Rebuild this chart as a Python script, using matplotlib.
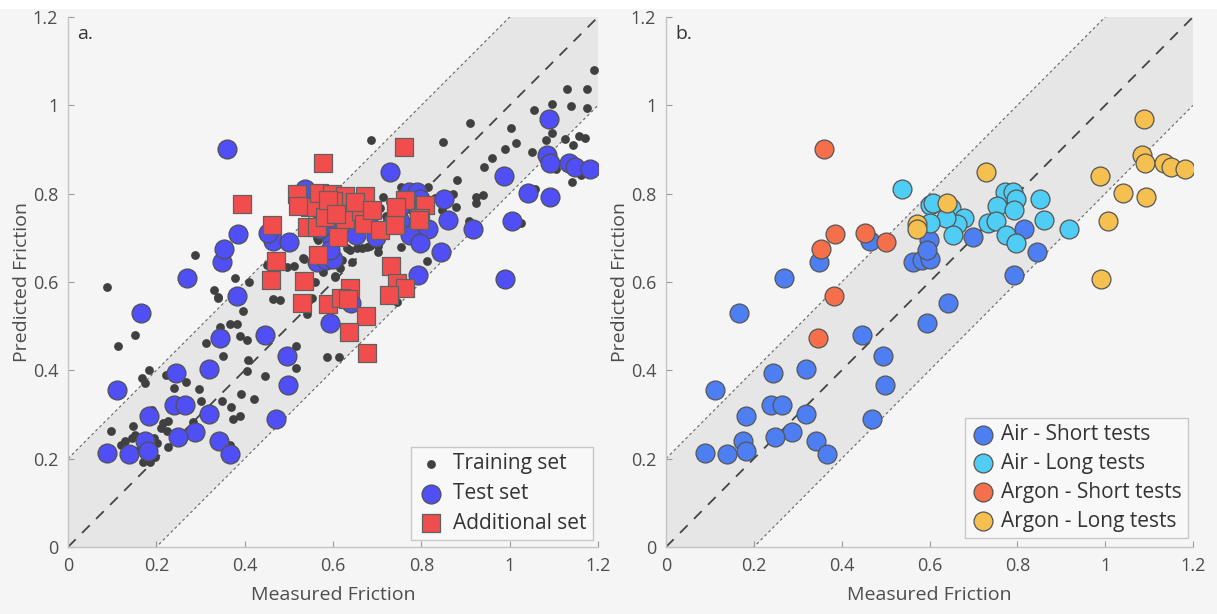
import numpy as np
import matplotlib
matplotlib.use("Agg")
import matplotlib.pyplot as plt
from matplotlib.patches import Rectangle

plt.rcParams['font.family'] = ['Open Sans', 'DejaVu Sans']

# ---- data (measured, predicted) ----
air_short_x = [0.166, 0.446, 0.495, 0.499, 0.470, 0.112, 0.244, 0.319, 0.239, 0.264, 0.183,
               0.319, 0.288, 0.249, 0.342, 0.367, 0.175, 0.182, 0.088, 0.139, 0.464, 0.348,
               0.269, 0.563, 0.584, 0.601, 0.598, 0.594, 0.698, 0.641, 0.594, 0.816, 0.844, 0.793]
air_short_y = [0.530, 0.480, 0.432, 0.367, 0.289, 0.355, 0.395, 0.402, 0.321, 0.321, 0.297,
               0.302, 0.260, 0.250, 0.240, 0.211, 0.240, 0.218, 0.213, 0.211, 0.693, 0.646,
               0.610, 0.646, 0.650, 0.652, 0.695, 0.672, 0.703, 0.552, 0.507, 0.721, 0.668, 0.616]

air_long_x = [0.537, 0.600, 0.609, 0.650, 0.679, 0.662, 0.638, 0.601, 0.653, 0.773, 0.791,
              0.798, 0.754, 0.792, 0.852, 0.861, 0.734, 0.751, 0.774, 0.798, 0.917]
air_long_y = [0.810, 0.774, 0.778, 0.767, 0.746, 0.731, 0.746, 0.733, 0.706, 0.803, 0.804,
              0.789, 0.773, 0.763, 0.787, 0.740, 0.733, 0.737, 0.706, 0.689, 0.719]

argon_short_x = [0.360, 0.384, 0.452, 0.500, 0.354, 0.383, 0.345]
argon_short_y = [0.901, 0.709, 0.712, 0.691, 0.675, 0.568, 0.474]

argon_long_x = [0.571, 0.571, 0.639, 0.729, 0.988, 1.088, 1.085, 1.091, 1.134, 1.149, 1.182,
                1.041, 1.092, 1.006, 0.990]
argon_long_y = [0.732, 0.719, 0.778, 0.850, 0.840, 0.968, 0.887, 0.870, 0.869, 0.861, 0.856,
                0.801, 0.793, 0.738, 0.606]

additional_x = [0.578, 0.761, 0.393, 0.461, 0.471, 0.459, 0.535, 0.567, 0.519, 0.549, 0.540,
                0.569, 0.597, 0.627, 0.672, 0.521, 0.601, 0.603, 0.627, 0.663, 0.670, 0.706,
                0.740, 0.763, 0.809, 0.797, 0.743, 0.563, 0.612, 0.731, 0.582, 0.589, 0.650,
                0.529, 0.589, 0.638, 0.617, 0.635, 0.675, 0.636, 0.676, 0.746, 0.763, 0.727,
                0.688, 0.607, 0.795]
additional_y = [0.870, 0.906, 0.777, 0.728, 0.648, 0.605, 0.602, 0.661, 0.799, 0.770, 0.725,
                0.802, 0.800, 0.795, 0.795, 0.772, 0.783, 0.752, 0.742, 0.761, 0.731, 0.718,
                0.729, 0.786, 0.774, 0.746, 0.769, 0.724, 0.701, 0.636, 0.748, 0.786, 0.780,
                0.553, 0.550, 0.586, 0.563, 0.561, 0.523, 0.487, 0.440, 0.597, 0.587, 0.570,
                0.763, 0.755, 0.740]

training_x = [0.288, 0.088, 0.378, 0.410, 0.331, 0.450, 0.495, 0.512, 0.534, 0.465, 0.339,
              0.567, 0.578, 0.604, 0.340, 0.397, 0.542, 0.152, 0.114, 0.184, 0.167, 0.174,
              0.223, 0.267, 0.297, 0.312, 0.344, 0.367, 0.382, 0.389, 0.405, 0.352, 0.408,
              0.405, 0.446, 0.391, 0.421, 0.349, 0.368, 0.389, 0.374, 0.516, 0.516, 0.586,
              0.614, 0.097, 0.148, 0.152, 0.146, 0.195, 0.202, 0.216, 0.227, 0.225, 0.282,
              0.227, 0.170, 0.186, 0.197, 0.367, 1.191, 1.130, 1.176, 1.095, 1.055, 1.138,
              1.176, 0.910, 1.004, 1.095, 1.082, 1.125, 1.158, 1.170, 1.144, 1.014, 1.050,
              0.686, 0.848, 0.943, 1.105, 1.140, 1.161, 0.714, 1.057, 0.871, 0.878, 0.923,
              0.939, 0.923, 0.846, 1.025, 0.909, 0.816, 0.755, 0.706, 0.812, 0.642, 0.703,
              0.755, 0.665, 0.638, 0.616, 0.605, 0.744, 0.533, 0.684, 0.703, 0.563, 0.552,
              0.631, 0.654, 0.676, 0.620, 0.620, 0.660, 0.690, 0.720, 0.750, 0.780, 0.800,
              0.830, 0.850, 0.760, 0.730, 0.640, 0.570, 0.600, 0.160, 0.130, 0.210, 0.260,
              0.300, 0.330, 0.240, 0.190, 0.120, 0.560, 0.480, 0.700, 0.880, 0.960, 0.990]
training_y = [0.661, 0.588, 0.608, 0.601, 0.582, 0.638, 0.635, 0.637, 0.651, 0.561, 0.567,
              0.695, 0.623, 0.614, 0.564, 0.534, 0.527, 0.480, 0.456, 0.401, 0.383, 0.371,
              0.389, 0.374, 0.357, 0.461, 0.499, 0.506, 0.506, 0.478, 0.469, 0.432, 0.423,
              0.399, 0.387, 0.346, 0.335, 0.331, 0.318, 0.297, 0.289, 0.455, 0.405, 0.431,
              0.431, 0.263, 0.275, 0.254, 0.246, 0.246, 0.235, 0.280, 0.286, 0.263, 0.282,
              0.227, 0.193, 0.193, 0.204, 0.231, 1.080, 1.036, 1.036, 1.002, 0.989, 0.998,
              0.995, 0.961, 0.949, 0.937, 0.921, 0.924, 0.930, 0.927, 0.910, 0.914, 0.895,
              0.921, 0.916, 0.861, 0.855, 0.827, 0.842, 0.792, 0.810, 0.799, 0.770, 0.792,
              0.797, 0.778, 0.763, 0.733, 0.739, 0.816, 0.816, 0.767, 0.647, 0.646, 0.669,
              0.680, 0.676, 0.672, 0.631, 0.612, 0.555, 0.654, 0.681, 0.681, 0.699, 0.563,
              0.676, 0.676, 0.680, 0.650, 0.700, 0.720, 0.740, 0.750, 0.740, 0.720, 0.780,
              0.790, 0.800, 0.810, 0.780, 0.770, 0.740, 0.720, 0.220, 0.240, 0.270, 0.250,
              0.330, 0.300, 0.360, 0.310, 0.230, 0.600, 0.560, 0.760, 0.830, 0.880, 0.900]

ticks = [0, 0.2, 0.4, 0.6, 0.8, 1, 1.2]
tick_labels = ['0', '0.2', '0.4', '0.6', '0.8', '1', '1.2']

# ---- figure ----
W, H = 1217, 614
fig = plt.figure(figsize=(W / 100, H / 100), dpi=100, facecolor='#f5f5f5')
fig.patches.append(Rectangle((0, 1 - 9 / H), 1, 9 / H, transform=fig.transFigure,
                             facecolor='white', edgecolor='none', zorder=0))

txt_col = '#4d4d4d'
axis_col = '#c4c4c4'


def setup(ax, tag):
    ax.set_facecolor('#f5f5f5')
    band = np.array([0, 1.2])
    ax.fill_between(band, band - 0.2, band + 0.2, color='#e6e6e6', lw=0, zorder=0)
    ax.plot(band, band, color='#444444', lw=1.3, ls=(0, (6, 5)), zorder=1)
    ax.plot(band, band + 0.2, color='#666666', lw=0.8, ls=(0, (2.5, 2.5)), zorder=1)
    ax.plot(band, band - 0.2, color='#666666', lw=0.8, ls=(0, (2.5, 2.5)), zorder=1)
    ax.set_xlim(0, 1.2)
    ax.set_ylim(0, 1.2)
    ax.set_xticks(ticks, tick_labels)
    ax.set_yticks(ticks, tick_labels)
    ax.tick_params(direction='in', length=4, width=0.8, color='#999999',
                   labelcolor=txt_col, labelsize=13, pad=7)
    for s in ['top', 'right']:
        ax.spines[s].set_visible(False)
    for s in ['left', 'bottom']:
        ax.spines[s].set_color(axis_col)
        ax.spines[s].set_linewidth(1.0)
    ax.set_xlabel('Measured Friction', color=txt_col, fontsize=14, labelpad=8)
    ax.set_ylabel('Predicted Friction', color=txt_col, fontsize=14, labelpad=1)
    ax.text(0.018, 0.985, tag, transform=ax.transAxes, ha='left', va='top',
            fontsize=14, color='#333333')


# panel a
ax1 = fig.add_axes([68 / W, 1 - 547 / H, 530 / W, 530 / H])
setup(ax1, 'a.')
test_x = air_short_x + air_long_x + argon_short_x + argon_long_x
test_y = air_short_y + air_long_y + argon_short_y + argon_long_y
h_tr = ax1.scatter(training_x, training_y, s=40, color='#404040', lw=0, zorder=2,
                   label='Training set')
h_te = ax1.scatter(test_x, test_y, s=185, color='#4f4ff5', edgecolor='#505050', lw=0.9,
                   zorder=3, label='Test set')
h_ad = ax1.scatter(additional_x, additional_y, s=175, marker='s', color='#f24d4d',
                   edgecolor='#606060', lw=0.9, zorder=4, label='Additional set')
leg1 = ax1.legend(handles=[h_tr, h_te, h_ad], loc='lower right',
                  bbox_to_anchor=(0.99, 0.013), fontsize=15, frameon=True, fancybox=False,
                  handletextpad=0.4, borderpad=0.3, labelspacing=0.42,
                  handlelength=1.3, borderaxespad=0)
leg1.get_frame().set_edgecolor('#c8c8c8')
leg1.get_frame().set_facecolor('#f8f8f8')
leg1.get_frame().set_alpha(1)
for t in leg1.get_texts():
    t.set_color('#333333')

# panel b
ax2 = fig.add_axes([666 / W, 1 - 547 / H, 527 / W, 530 / H])
setup(ax2, 'b.')
groups = [
    (air_short_x, air_short_y, '#4d7ef2', 'Air - Short tests'),
    (air_long_x, air_long_y, '#4fcdf5', 'Air - Long tests'),
    (argon_short_x, argon_short_y, '#f5704a', 'Argon - Short tests'),
    (argon_long_x, argon_long_y, '#f5c04f', 'Argon - Long tests'),
]
handles = []
for i, (gx, gy, col, lab) in enumerate(groups):
    h = ax2.scatter(gx, gy, s=185, color=col, edgecolor='#555555', lw=0.9,
                    zorder=3 + i, label=lab)
    handles.append(h)
leg2 = ax2.legend(handles=handles, loc='lower right', bbox_to_anchor=(0.99, 0.017),
                  fontsize=15, frameon=True, fancybox=False, handletextpad=0.3,
                  borderpad=0.3, labelspacing=0.38, handlelength=1.1, borderaxespad=0)
leg2.get_frame().set_edgecolor('#c8c8c8')
leg2.get_frame().set_facecolor('#f8f8f8')
leg2.get_frame().set_alpha(1)
for t in leg2.get_texts():
    t.set_color('#333333')

fig.savefig('out.png', dpi=100, facecolor=fig.get_facecolor())
